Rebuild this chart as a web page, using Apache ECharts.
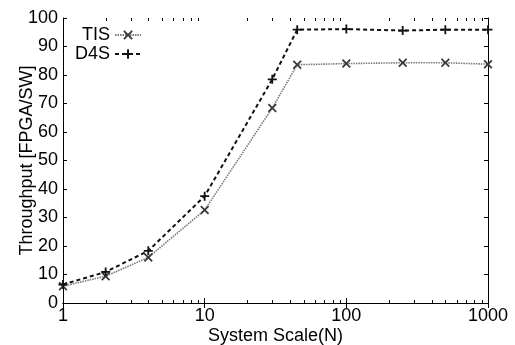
<!DOCTYPE html>
<html><head><meta charset="utf-8">
<script src="https://cdn.jsdelivr.net/npm/echarts@6/dist/echarts.min.js"></script>
<style>html,body{margin:0;padding:0;background:#fff}#c{width:515px;height:345px}</style>
</head><body><div id="c"></div>
<script>
const scaleN = [1, 2, 4, 10, 30, 45, 100, 250, 500, 1000];
const tisValues = [5.9, 9.4, 16.0, 32.6, 68.4, 83.6, 84.0, 84.3, 84.3, 83.8];
const d4sValues = [6.5, 10.9, 18.3, 37.5, 78.5, 95.9, 96.1, 95.6, 95.9, 95.9];
const minorTickValues = [2,3,4,5,6,7,8,9,20,30,40,50,60,70,80,90,200,300,400,500,600,700,800,900];

const FONT = 'Liberation Sans';
const FS = 18;
const plusPath = 'path://M4,0H6V4H10V6H6V10H4V6H0V4H4Z';
const crossPath = 'path://M0,1.4L1.4,0L5,3.6L8.6,0L10,1.4L6.4,5L10,8.6L8.6,10L5,6.4L1.4,10L0,8.6L3.6,5Z';

const chart = echarts.init(document.getElementById('c'), null, {renderer: 'canvas'});
const axisLine = {show: true, lineStyle: {color: '#000', width: 1}};
const labelStyle = {color: '#000', fontFamily: FONT, fontSize: FS};

chart.setOption({
  animation: false,
  backgroundColor: '#fff',
  grid: {left: 63, right: 27, top: 18, bottom: 42, containLabel: false, outerBoundsMode: 'none'},
  legend: {
    data: ['TIS', 'D4S'],
    orient: 'vertical',
    align: 'right',
    left: 70, top: 21,
    itemWidth: 26, itemHeight: 12, itemGap: 1,
    textStyle: {color: '#000', fontFamily: FONT, fontSize: FS},
    selectedMode: false
  },
  xAxis: [{
    type: 'log', logBase: 10, min: 1, max: 1000, position: 'bottom',
    name: 'System Scale(N)', nameLocation: 'middle', nameGap: 24, nameMoveOverlap: false,
    nameTextStyle: labelStyle,
    axisLine: axisLine,
    axisTick: {show: true, inside: true, length: 5, lineStyle: {color: '#000'}},
    axisLabel: Object.assign({margin: 4, formatter: function (v) { return String(Math.round(v)); }}, labelStyle),
    splitLine: {show: false}
  }, {
    type: 'log', logBase: 10, min: 1, max: 1000, position: 'top',
    axisLine: axisLine,
    axisTick: {show: true, inside: true, length: 5, lineStyle: {color: '#000'}},
    axisLabel: {show: false},
    splitLine: {show: false}
  }],
  yAxis: [{
    type: 'value', min: 0, max: 100, interval: 10, position: 'left',
    name: 'Throughput [FPGA/SW]', nameLocation: 'middle', nameGap: 27, nameMoveOverlap: false,
    nameTextStyle: labelStyle,
    axisLine: axisLine,
    axisTick: {show: true, inside: true, length: 4, lineStyle: {color: '#000'}},
    axisLabel: Object.assign({margin: 5}, labelStyle),
    splitLine: {show: false}
  }, {
    type: 'value', min: 0, max: 100, interval: 10, position: 'right',
    axisLine: axisLine,
    axisTick: {show: true, inside: true, length: 4, lineStyle: {color: '#000'}},
    axisLabel: {show: false},
    splitLine: {show: false}
  }],
  series: [{
    name: 'TIS', type: 'line',
    data: scaleN.map((x, i) => [x, tisValues[i]]),
    symbol: crossPath, symbolSize: 9,
    itemStyle: {color: '#3a3a3a'},
    lineStyle: {color: '#7a7a7a', width: 1.6, type: [1.5, 1]},
    z: 3
  }, {
    name: 'D4S', type: 'line',
    data: scaleN.map((x, i) => [x, d4sValues[i]]),
    symbol: plusPath, symbolSize: 9,
    itemStyle: {color: '#111'},
    lineStyle: {color: '#111', width: 2, type: [4, 3]},
    z: 4
  }, {
    type: 'custom', silent: true, clip: false,
    data: minorTickValues.map(v => [v, 50]),
    encode: {x: 0, y: 1},
    renderItem: function (params, api) {
      const cs = params.coordSys;
      const p = api.coord([api.value(0), 50]);
      const x = Math.round(p[0]) + 0.5;
      const yb = cs.y + cs.height;
      const yt = cs.y;
      return {type: 'group', children: [
        {type: 'line', shape: {x1: x, y1: yb, x2: x, y2: yb - 3}, style: {stroke: '#000', lineWidth: 1}},
        {type: 'line', shape: {x1: x, y1: yt, x2: x, y2: yt + 3}, style: {stroke: '#000', lineWidth: 1}}
      ]};
    },
    z: 5
  }]
});
</script></body></html>
